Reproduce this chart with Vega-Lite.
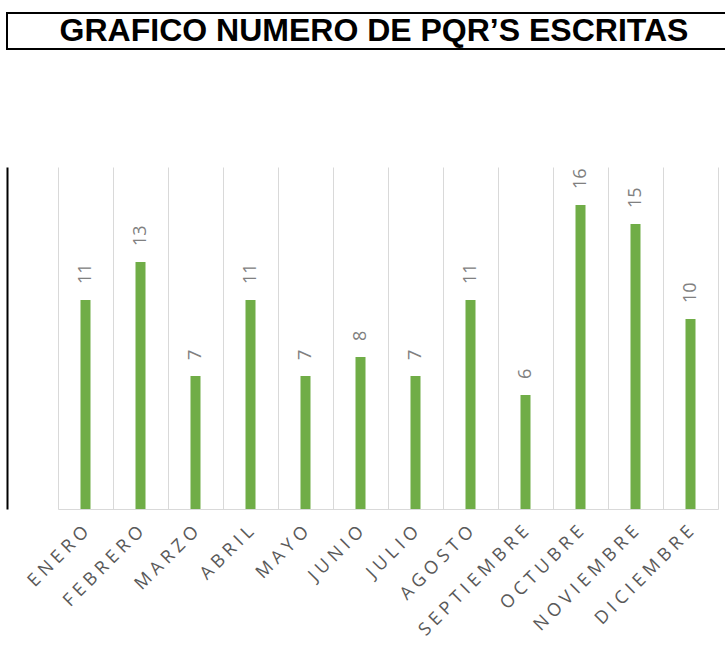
{
  "$schema": "https://vega.github.io/schema/vega-lite/v6.json",
  "padding": {"left": 0, "top": 12, "right": 0, "bottom": 0},
  "background": "#ffffff",
  "columns": 1,
  "spacing": 117,
  "config": {"view": {"stroke": null}},
  "datasets": {
    "titulo": [{"t": "GRAFICO NUMERO DE PQR’S ESCRITAS"}],
    "pqr": [
      {"mes": "ENERO", "valor": 11},
      {"mes": "FEBRERO", "valor": 13},
      {"mes": "MARZO", "valor": 7},
      {"mes": "ABRIL", "valor": 11},
      {"mes": "MAYO", "valor": 7},
      {"mes": "JUNIO", "valor": 8},
      {"mes": "JULIO", "valor": 7},
      {"mes": "AGOSTO", "valor": 11},
      {"mes": "SEPTIEMBRE", "valor": 6},
      {"mes": "OCTUBRE", "valor": 16},
      {"mes": "NOVIEMBRE", "valor": 15},
      {"mes": "DICIEMBRE", "valor": 10}
    ]
  },
  "concat": [
    {
      "width": 734,
      "height": 36,
      "view": {"stroke": "#000000", "strokeWidth": 2},
      "data": {"name": "titulo"},
      "mark": {"type": "text", "font": "Liberation Sans", "fontWeight": "bold", "fontSize": 32, "color": "#000000", "baseline": "middle", "align": "center"},
      "encoding": {"text": {"field": "t"}}
    },
    {
      "width": 718,
      "height": 342,
      "data": {"name": "pqr"},
      "encoding": {
        "x": {
          "field": "mes",
          "type": "nominal",
          "sort": null,
          "scale": {"paddingInner": 0, "paddingOuter": 0, "range": [51, 711]},
          "axis": {
            "title": null,
            "tickBand": "extent",
            "grid": true,
            "gridColor": "#d9d9d9",
            "gridWidth": 1,
            "ticks": false,
            "domain": true,
            "domainColor": "#d9d9d9",
            "domainWidth": 1,
            "labelAngle": -45,
            "labelAlign": "right",
            "labelBaseline": "middle",
            "labelFont": "Open Sans",
            "labelFontSize": 18,
            "labelColor": "#595959",
            "labelPadding": 20,
            "labelExpr": "join(split(datum.label, ''), ' ')"
          }
        },
        "y": {
          "field": "valor",
          "type": "quantitative",
          "scale": {"domain": [0, 18], "nice": false},
          "axis": {
            "title": null,
            "grid": false,
            "labels": false,
            "ticks": false,
            "domain": true,
            "domainColor": "#000000",
            "domainWidth": 2
          }
        }
      },
      "layer": [
        {"mark": {"type": "bar", "width": 10, "color": "#70ad47"}},
        {
          "mark": {"type": "text", "angle": 270, "align": "left", "baseline": "middle", "dx": 16, "font": "Open Sans", "fontSize": 18, "color": "#808080"},
          "encoding": {"text": {"field": "valor", "type": "quantitative"}}
        }
      ]
    }
  ]
}
